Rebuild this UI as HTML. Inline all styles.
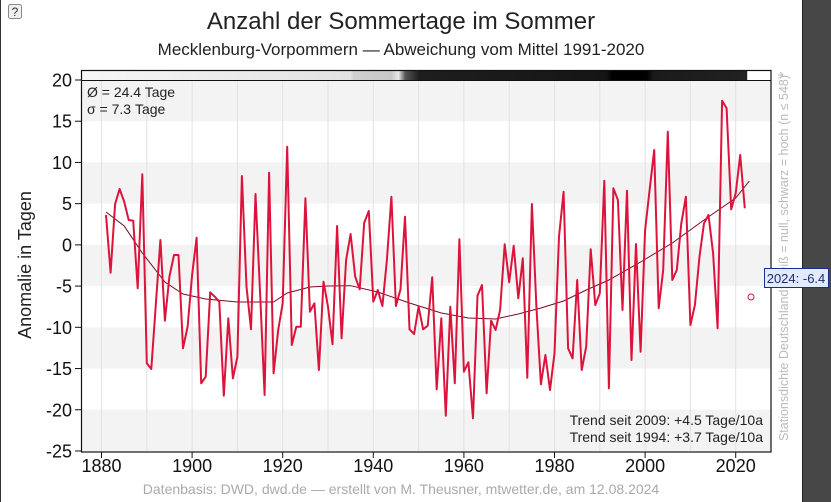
<!DOCTYPE html>
<html><head><meta charset="utf-8"><style>
html,body{margin:0;padding:0;background:#fff;}
body{width:831px;height:502px;overflow:hidden;position:relative;font-family:"Liberation Sans",sans-serif;}
</style></head><body>
<svg id="s" width="831" height="502" xmlns="http://www.w3.org/2000/svg" style="position:absolute;left:0;top:0">
<defs>
<linearGradient id="g" x1="81" x2="771" gradientUnits="userSpaceOnUse">
<stop offset="0" stop-color="#f6f6f6"/>
<stop offset="0.39" stop-color="#e2e2e2"/>
<stop offset="0.395" stop-color="#cfcfcf"/>
<stop offset="0.45" stop-color="#c8c8c8"/>
<stop offset="0.46" stop-color="#e8e8e8"/>
<stop offset="0.47" stop-color="#555"/>
<stop offset="0.49" stop-color="#1e1e1e"/>
<stop offset="0.76" stop-color="#151515"/>
<stop offset="0.77" stop-color="#000"/>
<stop offset="0.82" stop-color="#000"/>
<stop offset="0.83" stop-color="#1a1a1a"/>
<stop offset="0.965" stop-color="#222"/>
<stop offset="0.966" stop-color="#fff"/>
<stop offset="1" stop-color="#fff"/>
</linearGradient>
</defs>
<rect x="0" y="0" width="831" height="502" fill="#fff"/>
<line x1="0.5" y1="0" x2="0.5" y2="502" stroke="#333"/>
<rect x="803" y="0" width="28" height="502" fill="#474747"/>
<line x1="802.5" y1="0" x2="802.5" y2="502" stroke="#222"/>
<rect x="8.5" y="4.5" width="13" height="14" rx="2" fill="#f0f0f0" stroke="#888"/>
<text x="15" y="16" font-size="12" text-anchor="middle" fill="#333">?</text>
<text x="401" y="29" font-size="24" text-anchor="middle" fill="#222">Anzahl der Sommertage im Sommer</text>
<text x="401" y="55" font-size="17" text-anchor="middle" fill="#222">Mecklenburg-Vorpommern — Abweichung vom Mittel 1991-2020</text>
<g id="bands"></g>
<g id="grid"></g>
<rect x="81" y="70.5" width="690" height="10" fill="url(#g)"/>
<path id="trend" fill="none" stroke="#7a0a22" stroke-width="1"/>
<polyline id="data" fill="none" stroke="#dc143c" stroke-width="2" stroke-linejoin="round"/>
<circle cx="751" cy="297" r="3" fill="none" stroke="#dc143c" stroke-width="1"/>
<rect x="81.5" y="70.5" width="689.5" height="381.5" fill="none" stroke="#111" stroke-width="1.2"/>
<line x1="81" y1="80.5" x2="771" y2="80.5" stroke="#111"/>
<g id="ticks" stroke="#111"></g>
<g id="labels" font-size="18" fill="#111"></g>
<text x="87" y="97" font-size="14" fill="#222">Ø = 24.4 Tage</text>
<text x="87" y="114" font-size="14" fill="#222">σ = 7.3 Tage</text>
<text x="763" y="425" font-size="14" text-anchor="end" fill="#222">Trend seit 2009: +4.5 Tage/10a</text>
<text x="763" y="442" font-size="14" text-anchor="end" fill="#222">Trend seit 1994: +3.7 Tage/10a</text>
<text transform="translate(31,265) rotate(-90)" font-size="18" text-anchor="middle" fill="#222">Anomalie in Tagen</text>
<text transform="translate(788,258) rotate(-90)" font-size="12.5" text-anchor="middle" fill="#bbb">Stationsdichte Deutschland: weiß = null, schwarz = hoch (n ≤ 548)</text>
<path d="M778 75 h5 M783 75 l-3 -3 M783 75 l-3 3" stroke="#bbb" fill="none"/>
<rect x="764.5" y="268.5" width="64" height="19" fill="#e3e9ff" stroke="#1a2f8a"/>
<text x="796" y="283" font-size="13" text-anchor="middle" fill="#1a2f6a">2024: -6.4</text>
<text x="401" y="494" font-size="14" text-anchor="middle" fill="#aaa">Datenbasis: DWD, dwd.de — erstellt von M. Theusner, mtwetter.de, am 12.08.2024</text>
</svg>
<script>
var NS="http://www.w3.org/2000/svg";
function el(p,t,a,txt){var e=document.createElementNS(NS,t);for(var k in a)e.setAttribute(k,a[k]);if(txt!==undefined)e.textContent=txt;document.getElementById(p).appendChild(e);return e;}
function Y(v){return 80+(20-v)*8.244;}
function X(yr){return 101.5+(yr-1880)*4.53;}
for(var v=20;v>-25;v-=10){el("bands","rect",{x:82,y:Y(v),width:689,height:8.244*5,fill:"#f3f3f3"});}
for(var yr=1880;yr<=2020;yr+=10){el("grid","line",{x1:X(yr),x2:X(yr),y1:81,y2:451,stroke:"#e2e2e2","stroke-width":1});}
for(var v=20;v>=-25;v-=5){var y=Y(v);el("ticks","line",{x1:75,x2:81,y1:y,y2:y});el("labels","text",{x:72,y:y+6.5,"text-anchor":"end"},String(v));}
for(var yr=1880;yr<=2020;yr+=20){var x=X(yr);el("ticks","line",{x1:x,x2:x,y1:452,y2:458});el("labels","text",{x:x,y:472,"text-anchor":"middle"},yr);}
var a=[255,428,222,177,215,270,272,475,133,700,717,520,330,572,440,375,375,655,590,435,323,760,740,487,500,515,797,565,745,680,138,470,598,192,490,795,128,730,600,520,50,645,590,590,205,545,520,720,455];
var b=[470,583,228,565,330,252,380,418,218,183,455,420,468,330,140,468,418,200,538,552,470,538,527,382,718,505,797,470,700,268,665,637,805,437,405,730,512,540,480,283,397,287,445,325,683,162,470,703,505];
var c=[900,790,440,305,775,805,570,840,770,478,645,610,272,895,295,330,660,302,810,462,785,420,300,180,655,540,125,570,540,400,320,705,645,500,400,375,490,715,32,55,358,310,195,355];
var ys=[];a.forEach(function(z){ys.push(130+z/3);});b.forEach(function(z){ys.push(150+z/3);});
ys[ys.length-1]=355;
c.forEach(function(z){ys.push(90+z/3);});
var pts=ys.map(function(y,i){return X(1881+i).toFixed(1)+","+y.toFixed(1);}).join(" ");
document.getElementById("data").setAttribute("points",pts);
var t=[[1881,212],[1885,226],[1889,253],[1894,282],[1898,294],[1903,299],[1910,302],[1918,302],[1921,293],[1926,287],[1930,286],[1935,285.7],[1941,292],[1948,303],[1955,313],[1961,318],[1967,319],[1972,314],[1977,308],[1982,301],[1987,290],[1992,280],[1999,262],[2006,243],[2013,220],[2020,198],[2023,181]];
var d="M"+t.map(function(p){return X(p[0]).toFixed(1)+","+p[1];}).join(" L");
document.getElementById("trend").setAttribute("d",d);
</script>
</body></html>
